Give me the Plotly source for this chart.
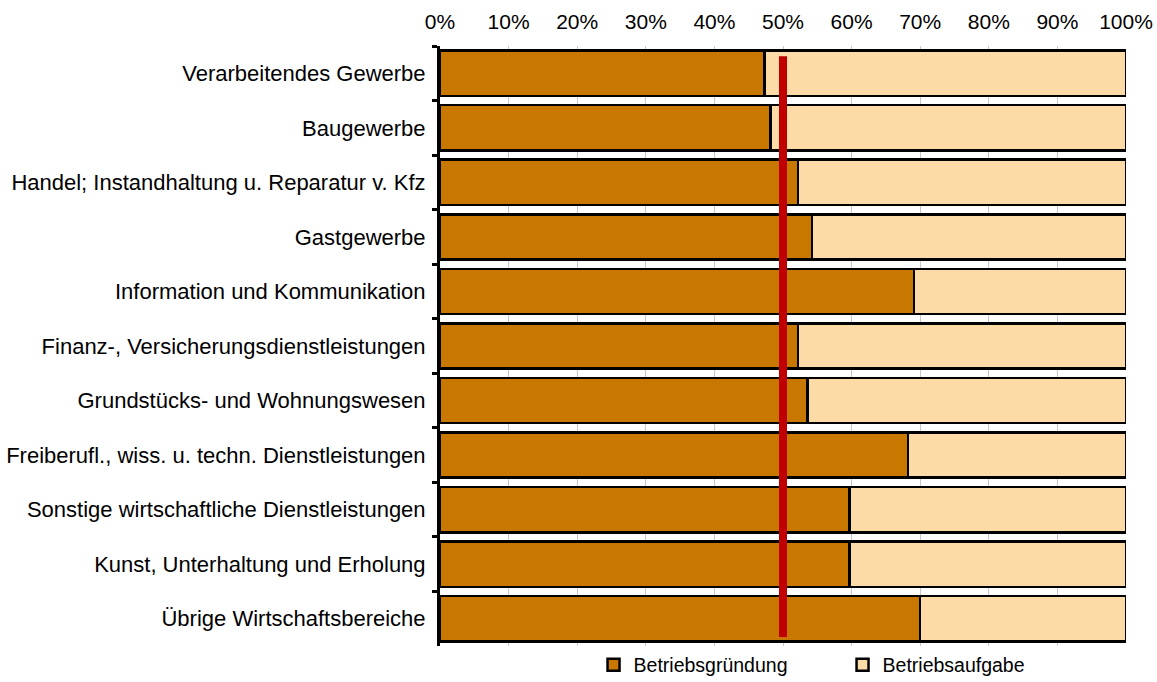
import plotly.graph_objects as go

categories = [
    "Verarbeitendes Gewerbe",
    "Baugewerbe",
    "Handel; Instandhaltung u. Reparatur v. Kfz",
    "Gastgewerbe",
    "Information und Kommunikation",
    "Finanz-, Versicherungsdienstleistungen",
    "Grundstücks- und Wohnungswesen",
    "Freiberufl., wiss. u. techn. Dienstleistungen",
    "Sonstige wirtschaftliche Dienstleistungen",
    "Kunst, Unterhaltung und Erholung",
    "Übrige Wirtschaftsbereiche",
]
gruendung = [47.3, 48.2, 52.2, 54.2, 69.1, 52.2, 53.6, 68.2, 59.7, 59.7, 70.0]
aufgabe = [round(100 - v, 1) for v in gruendung]
reference_line = 50
x_ticks = list(range(0, 101, 10))

FONT = "Liberation Sans, Arial, sans-serif"

fig = go.Figure()
fig.add_trace(go.Bar(
    y=categories, x=gruendung, orientation="h", name="Betriebsgründung",
    marker=dict(color="#C87800", line=dict(color="black", width=2.5)),
))
fig.add_trace(go.Bar(
    y=categories, x=aufgabe, orientation="h", name="Betriebsaufgabe",
    marker=dict(color="#FDDBA6", line=dict(color="black", width=2.5)),
))

fig.add_shape(
    type="line", xref="x", yref="paper",
    x0=reference_line, x1=reference_line, y0=0.015, y1=0.983,
    line=dict(color="#C00000", width=8), layer="above",
)

fig.update_layout(
    barmode="stack",
    bargap=0.17,
    width=1157, height=682,
    margin=dict(l=440, r=31, t=46, b=36, autoexpand=False),
    paper_bgcolor="white", plot_bgcolor="white",
    font=dict(family=FONT, size=22, color="black"),
    legend=dict(
        orientation="h", xref="container", yref="container",
        x=0.513, y=0.025, xanchor="left", yanchor="middle",
        font=dict(size=19.5), entrywidth=204, traceorder="normal",
        itemwidth=30, bgcolor="rgba(0,0,0,0)",
    ),
    xaxis=dict(
        side="top", range=[0, 100], tickvals=x_ticks,
        ticktext=[f"{v}%" for v in x_ticks],
        showgrid=True, gridcolor="#C8C8C8", gridwidth=1,
        zeroline=False, showline=False, ticks="",
        ticklabelstandoff=12, tickfont=dict(size=21),
        automargin=False,
    ),
    yaxis=dict(
        categoryorder="array", categoryarray=categories,
        autorange="reversed",
        showline=True, linecolor="black", linewidth=3,
        ticks="outside", tickson="boundaries", ticklen=5, tickwidth=3,
        tickcolor="black", showgrid=False, tickfont=dict(size=22),
        ticklabelstandoff=7, automargin=False,
    ),
    showlegend=True,
)

fig.write_html(
    "out.html",
    config={"displayModeBar": False},
    post_script="document.body.style.margin='0';document.body.style.overflow='hidden';",
)
